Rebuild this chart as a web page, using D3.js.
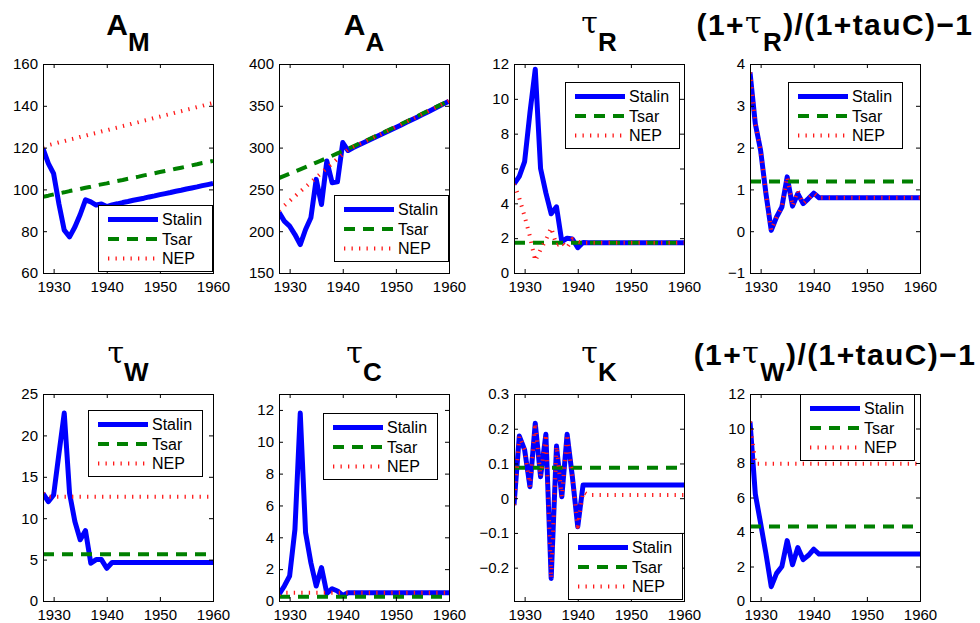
<!DOCTYPE html>
<html>
<head>
<meta charset="utf-8">
<script src="https://cdn.jsdelivr.net/npm/d3@7"></script>
<style>
  body { margin: 0; background: #fff; }
  svg { display: block; font-family: "Liberation Sans", Arial, Helvetica, sans-serif; }
</style>
</head>
<body>
<svg id="chart" width="980" height="623"></svg>
<script>
// ---- data -------------------------------------------------------------
const years = [1928,1929,1930,1931,1932,1933,1934,1935,1936,1937,1938,1939,1940,1941,
  1942,1943,1944,1945,1946,1947,1948,1949,1950,1951,1952,1953,1954,1955,1956,1957,1958,1959,1960];
const xTicks = [1930, 1940, 1950, 1960];
const seriesNames = ["Stalin", "Tsar", "NEP"];

// A_M
const amStalin = [119.5,112.5,107.5,93.0,80.5,77.3,82.0,88.0,95.0,94.0,92.5,93.0,91.8,92.6,
  93.1,93.7,94.2,94.8,95.3,95.8,96.4,96.9,97.5,98.0,98.5,99.1,99.6,100.2,100.7,101.2,101.8,102.3,102.8];
const amTsar = [96.5,97.0,97.6,98.1,98.6,99.2,99.7,100.2,100.8,101.3,101.9,102.4,102.9,103.5,
  104.0,104.5,105.1,105.6,106.1,106.7,107.2,107.7,108.3,108.8,109.3,109.9,110.4,110.9,111.5,112.0,112.6,113.1,113.6];
const amNep = [120.5,121.2,121.8,122.5,123.1,123.8,124.4,125.1,125.7,126.4,127.0,127.7,128.3,129.0,
  129.6,130.3,130.9,131.6,132.2,132.9,133.5,134.2,134.8,135.5,136.1,136.8,137.4,138.1,138.7,139.4,140.0,140.7,141.3];
const amTicks = [60, 80, 100, 120, 140, 160];

// A_A
const aaStalin = [222.5,212.0,206.0,196.0,184.0,202.0,216.0,262.0,232.0,284.0,258.0,259.0,306.0,296.5,
  300.0,303.0,306.0,309.0,312.0,315.0,318.0,321.0,324.0,327.1,330.2,333.3,336.4,339.5,342.7,345.9,349.1,352.3,355.5];
const aaTsar = [263.6,266.2,268.8,271.4,274.0,276.7,279.4,282.1,284.8,287.5,290.3,293.1,295.9,298.7,
  301.5,304.4,307.3,310.2,313.1,316.1,319.1,322.1,325.1,328.2,331.3,334.4,337.5,340.6,343.7,346.8,349.9,353.0,356.1];
const aaNep = [225.0,230.6,236.2,241.8,247.4,253.0,258.6,264.2,269.8,275.4,281.0,286.6,292.2,297.8,
  300.8,303.7,306.7,309.6,312.6,315.6,318.6,321.6,324.6,327.7,330.8,333.9,337.0,340.1,343.2,346.3,349.5,352.7,355.8];
const aaTicks = [150, 200, 250, 300, 350, 400];

// tau_R
const trStalin = [5.1,5.55,6.4,9.2,11.7,6.0,4.6,3.4,3.8,1.8,2.0,1.95,1.45,1.75,
  1.73,1.73,1.73,1.73,1.73,1.73,1.73,1.73,1.73,1.73,1.73,1.73,1.73,1.73,1.73,1.73,1.73,1.73,1.73];
const trTsar = [1.73,1.73,1.73,1.73,1.73,1.73,1.73,1.73,1.73,1.73,1.73,1.73,1.73,1.73,
  1.73,1.73,1.73,1.73,1.73,1.73,1.73,1.73,1.73,1.73,1.73,1.73,1.73,1.73,1.73,1.73,1.73,1.73,1.73];
const trNep = [5.1,4.3,3.25,2.1,0.7,1.35,1.9,2.6,1.6,1.75,1.45,1.95,1.8,1.73,
  1.73,1.73,1.73,1.73,1.73,1.73,1.73,1.73,1.73,1.73,1.73,1.73,1.73,1.73,1.73,1.73,1.73,1.73,1.73];
const trTicks = [0, 2, 4, 6, 8, 10, 12];

// (1+tau_R)/(1+tauC)-1
const rcStalin = [3.8,2.57,1.93,0.9,0.02,0.34,0.58,1.3,0.6,0.9,0.66,0.78,0.91,0.8,
  0.8,0.8,0.8,0.8,0.8,0.8,0.8,0.8,0.8,0.8,0.8,0.8,0.8,0.8,0.8,0.8,0.8,0.8,0.8];
const rcTsar = [1.19,1.19,1.19,1.19,1.19,1.19,1.19,1.19,1.19,1.19,1.19,1.19,1.19,1.19,
  1.19,1.19,1.19,1.19,1.19,1.19,1.19,1.19,1.19,1.19,1.19,1.19,1.19,1.19,1.19,1.19,1.19,1.19,1.19];
const rcNep = [3.8,2.57,1.93,0.9,0.02,0.34,0.58,1.3,0.6,0.97,0.66,0.78,0.91,0.8,
  0.8,0.8,0.8,0.8,0.8,0.8,0.8,0.8,0.8,0.8,0.8,0.8,0.8,0.8,0.8,0.8,0.8,0.8,0.8];
const rcTicks = [-1, 0, 1, 2, 3, 4];

// tau_W
const twStalin = [13.0,12.0,12.8,17.8,22.7,13.0,9.6,7.4,8.5,4.55,5.0,5.0,3.95,4.65,
  4.65,4.65,4.65,4.65,4.65,4.65,4.65,4.65,4.65,4.65,4.65,4.65,4.65,4.65,4.65,4.65,4.65,4.65,4.65];
const twTsar = [5.64,5.64,5.64,5.64,5.64,5.64,5.64,5.64,5.64,5.64,5.64,5.64,5.64,5.64,
  5.64,5.64,5.64,5.64,5.64,5.64,5.64,5.64,5.64,5.64,5.64,5.64,5.64,5.64,5.64,5.64,5.64,5.64,5.64];
const twNep = [13.0,12.6,12.6,12.6,12.6,12.6,12.6,12.6,12.6,12.6,12.6,12.6,12.6,12.6,
  12.6,12.6,12.6,12.6,12.6,12.6,12.6,12.6,12.6,12.6,12.6,12.6,12.6,12.6,12.6,12.6,12.6,12.6,12.6];
const twTicks = [0, 5, 10, 15, 20, 25];

// tau_C
const tcStalin = [0.42,0.94,1.57,4.5,11.8,4.3,2.4,0.94,2.1,0.48,0.77,0.63,0.35,0.52,
  0.52,0.52,0.52,0.52,0.52,0.52,0.52,0.52,0.52,0.52,0.52,0.52,0.52,0.52,0.52,0.52,0.52,0.52,0.52];
const tcTsar = [0.27,0.27,0.27,0.27,0.27,0.27,0.27,0.27,0.27,0.27,0.27,0.27,0.27,0.27,
  0.27,0.27,0.27,0.27,0.27,0.27,0.27,0.27,0.27,0.27,0.27,0.27,0.27,0.27,0.27,0.27,0.27,0.27,0.27];
const tcNep = [0.42,0.52,0.52,0.52,0.52,0.52,0.52,0.52,0.52,0.52,0.52,0.52,0.52,0.52,
  0.52,0.52,0.52,0.52,0.52,0.52,0.52,0.52,0.52,0.52,0.52,0.52,0.52,0.52,0.52,0.52,0.52,0.52,0.52];
const tcTicks = [0, 2, 4, 6, 8, 10, 12];

// tau_K
const tkStalin = [-0.02,0.179,0.139,0.033,0.216,0.062,0.184,-0.231,0.15,0.004,0.184,0.06,-0.082,0.038,
  0.038,0.038,0.038,0.038,0.038,0.038,0.038,0.038,0.038,0.038,0.038,0.038,0.038,0.038,0.038,0.038,0.038,0.038,0.038];
const tkTsar = [0.088,0.088,0.088,0.088,0.088,0.088,0.088,0.088,0.088,0.088,0.088,0.088,0.088,0.088,
  0.088,0.088,0.088,0.088,0.088,0.088,0.088,0.088,0.088,0.088,0.088,0.088,0.088,0.088,0.088,0.088,0.088,0.088,0.088];
const tkNep = [-0.02,0.179,0.139,0.033,0.216,0.062,0.184,-0.231,0.15,0.004,0.184,0.06,-0.082,0.018,
  0.009,0.009,0.009,0.009,0.009,0.009,0.009,0.009,0.009,0.009,0.009,0.009,0.009,0.009,0.009,0.009,0.009,0.009,0.009];
const tkTicks = [-0.2, -0.1, 0, 0.1, 0.2, 0.3];

// (1+tau_W)/(1+tauC)-1
const wcStalin = [10.4,6.2,4.5,2.75,0.83,1.6,2.0,3.5,2.1,3.1,2.4,2.65,3.0,2.72,
  2.72,2.72,2.72,2.72,2.72,2.72,2.72,2.72,2.72,2.72,2.72,2.72,2.72,2.72,2.72,2.72,2.72,2.72,2.72];
const wcTsar = [4.32,4.32,4.32,4.32,4.32,4.32,4.32,4.32,4.32,4.32,4.32,4.32,4.32,4.32,
  4.32,4.32,4.32,4.32,4.32,4.32,4.32,4.32,4.32,4.32,4.32,4.32,4.32,4.32,4.32,4.32,4.32,4.32,4.32];
const wcNep = [10.4,7.95,7.95,7.95,7.95,7.95,7.95,7.95,7.95,7.95,7.95,7.95,7.95,7.95,
  7.95,7.95,7.95,7.95,7.95,7.95,7.95,7.95,7.95,7.95,7.95,7.95,7.95,7.95,7.95,7.95,7.95,7.95,7.95];
const wcTicks = [0, 2, 4, 6, 8, 10, 12];

// ---- layout & styling -------------------------------------------------
const W = 170;
const colX = [43, 279, 514, 750];
const rowY = [{ top: 64, bottom: 273 }, { top: 394, bottom: 601 }];

const lineStyles = [
  { color: "#0000ff", width: 5, dash: null },
  { color: "#008000", width: 4, dash: "11,8" },
  { color: "#ff1a1a", width: 4, dash: "1.3,6.2" }
];

// title pieces: m = main glyphs (bold), g = greek (regular), s = subscript
const panels = [
  { row: 0, col: 0, title: [["m", "A"], ["s", "M"]], yDomain: [60, 160], ticks: amTicks,
    series: [amStalin, amTsar, amNep], legend: [55, 141] },
  { row: 0, col: 1, title: [["m", "A"], ["s", "A"]], yDomain: [150, 400], ticks: aaTicks,
    series: [aaStalin, aaTsar, aaNep], legend: [55, 131] },
  { row: 0, col: 2, title: [["g", "τ"], ["s", "R"]], yDomain: [0, 12], ticks: trTicks,
    series: [trStalin, trTsar, trNep], legend: [51, 18] },
  { row: 0, col: 3, title: [["m", "(1+"], ["g", "τ"], ["s", "R"], ["m", ")/(1+tauC)\u22121"]], wide: true,
    yDomain: [-1, 4], ticks: rcTicks, series: [rcStalin, rcTsar, rcNep], legend: [38, 18] },
  { row: 1, col: 0, title: [["g", "τ"], ["s", "W"]], yDomain: [0, 25], ticks: twTicks,
    series: [twStalin, twTsar, twNep], legend: [45, 16] },
  { row: 1, col: 1, title: [["g", "τ"], ["s", "C"]], yDomain: [0, 13], ticks: tcTicks,
    series: [tcStalin, tcTsar, tcNep], legend: [44, 19] },
  { row: 1, col: 2, title: [["g", "τ"], ["s", "K"]], yDomain: [-0.296, 0.3], ticks: tkTicks,
    series: [tkStalin, tkTsar, tkNep], legend: [54, 139] },
  { row: 1, col: 3, title: [["m", "(1+"], ["g", "τ"], ["s", "W"], ["m", ")/(1+tauC)\u22121"]], wide: true,
    yDomain: [0, 12], ticks: wcTicks, series: [wcStalin, wcTsar, wcNep], legend: [50, 0] }
];

const svg = d3.select("#chart");
const fmt = d3.format("~g");

panels.forEach((p, idx) => {
  const L = colX[p.col], T = rowY[p.row].top, B = rowY[p.row].bottom, H = B - T;
  const g = svg.append("g").attr("transform", `translate(${L},${T})`);

  const x = d3.scaleLinear().domain([1928, 1960]).range([0, W]);
  const y = d3.scaleLinear().domain(p.yDomain).range([H, 0]);

  const clipId = "clip" + idx;
  g.append("clipPath").attr("id", clipId)
    .append("rect").attr("width", W).attr("height", H);

  // series lines
  const line = d3.line().x((d, i) => x(years[i])).y(d => y(d));
  const lines = g.append("g").attr("clip-path", `url(#${clipId})`);
  p.series.forEach((vals, k) => {
    const st = lineStyles[k];
    lines.append("path")
      .datum(vals)
      .attr("d", line)
      .attr("fill", "none")
      .attr("stroke", st.color)
      .attr("stroke-width", st.width)
      .attr("stroke-linejoin", "round")
      .attr("stroke-dasharray", st.dash);
  });

  // axes (ticks point inward, box on)
  const styleAxis = sel => {
    sel.select(".domain").remove();
    sel.selectAll("line").attr("stroke", "#000");
    sel.selectAll("text").attr("fill", "#000").style("font-size", "15px")
      .style("font-family", '"Liberation Sans", Arial, Helvetica, sans-serif');
  };
  g.append("g").attr("transform", `translate(0,${H})`)
    .call(d3.axisBottom(x).tickValues(xTicks).tickSize(-4).tickPadding(8).tickFormat(d3.format("d")))
    .call(styleAxis);
  g.append("g")
    .call(d3.axisTop(x).tickValues(xTicks).tickSize(-4).tickFormat(""))
    .call(styleAxis);
  g.append("g")
    .call(d3.axisLeft(y).tickValues(p.ticks).tickSize(-4).tickPadding(5).tickFormat(fmt))
    .call(styleAxis);
  g.append("g").attr("transform", `translate(${W},0)`)
    .call(d3.axisRight(y).tickValues(p.ticks).tickSize(-4).tickFormat(""))
    .call(styleAxis);

  g.append("rect")
    .attr("x", 0.5).attr("y", 0.5).attr("width", W).attr("height", H)
    .attr("fill", "none").attr("stroke", "#000").attr("stroke-width", 1);

  // title
  const t = g.append("text")
    .attr("x", W / 2).attr("y", -29)
    .attr("text-anchor", "middle")
    .attr("fill", "#000")
    .style("letter-spacing", p.wide ? "1.4px" : "0px");
  let shift = 0; // current baseline offset
  p.title.forEach(([kind, str]) => {
    let target;
    const span = t.append("tspan").text(str);
    if (kind === "m") {
      target = 0;
      span.style("font-size", "30px").style("font-weight", "bold");
    } else if (kind === "g") {
      target = -2;
      span.style("font-size", "30px").style("font-weight", "normal")
        .style("font-family", '"DejaVu Serif", "Liberation Serif", serif');
    } else {
      target = 16;
      span.style("font-size", "26px").style("font-weight", "bold");
    }
    span.attr("dy", target - shift);
    shift = target;
  });

  // legend
  const lg = g.append("g").attr("transform", `translate(${p.legend[0]},${p.legend[1]})`);
  lg.append("rect")
    .attr("x", 0.5).attr("y", 0.5).attr("width", 114).attr("height", 66)
    .attr("fill", "#fff").attr("stroke", "#000").attr("stroke-width", 1);
  seriesNames.forEach((name, k) => {
    const st = lineStyles[k];
    const ry = 14.5 + k * 19.5;
    lg.append("line")
      .attr("x1", 10).attr("x2", 60).attr("y1", ry).attr("y2", ry)
      .attr("stroke", st.color).attr("stroke-width", st.width)
      .attr("stroke-dasharray", st.dash);
    lg.append("text")
      .attr("x", 64).attr("y", ry).attr("dy", "0.36em")
      .style("font-size", "16px").attr("fill", "#000")
      .text(name);
  });
});
</script>
</body>
</html>
